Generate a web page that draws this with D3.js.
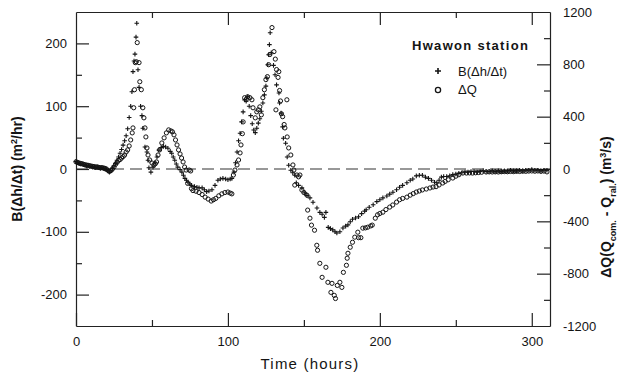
<!DOCTYPE html>
<html>
<head>
<meta charset="utf-8">
<script src="https://cdn.jsdelivr.net/npm/d3@7"></script>
<style>
  body { margin: 0; background: #fff; }
  svg { display: block; font-family: Arial, "Liberation Sans", sans-serif; }
</style>
</head>
<body>
<div id="container"></div>
<script>
// B(dh/dt), left axis (m2/hr) - plus markers
const hoursB = [0,1,2,3,4,5,6,7,8,9,10,11,12,13,14,15,16,17,18,19,20,21,22,23,24,
  25,26,27,28,29,30,31,32,33,34,35,36,36.8,37.5,38.2,38.8,39.5,40,
  40.8,41.5,42.5,43.4,44,45.4,46.7,47.4,48,49.3,50.7,52,53.3,54.6,56,57.5,59,60.5,62,63,64,65,66,67,68.5,69.7,70.7,71.7,72.7,73.7,75,76,78,79.6,81,83,84.5,86,87.5,89.5,91.5,93.4,95,96.7,98.5,100,101.5,102.6,
  104,105,106,107,108,109,110,111,112,113,114,115,116,117,118,119,120,121,122,123,124,125,125.6,126.2,126.8,127.3,127.8,128.5,130,
  131,132,133.6,134,135,136,136.5,138,139,140,141.4,142.7,144,145,146.5,148.7,150.6,152,154,156,158.6,160.5,162,163.5,164.5,166,167.5,169,170.5,171.7,173.7,175.7,177.5,179,180.5,182,184,186,188,190,191,193,195.6,198,200,202,204.6,206.5,208.6,211,213,215,217.8,220,221.7,224,226,228,230,232,234,236,237.5,239,240.5,242,244,246,248,250,252,254,256,258,260,262,264,266,268,270,272,274,276,278,280,282,284,286,288,290,292,294,296,298,300,302,304,306,308,310];
const valuesB = [12,10,9,8,8,7,6,5,5,4,4,3,3,2,3,2,1,2,1,0,-1,-3,-5,-3,1,
  5,9,14,19,25,31,38,45,53,64,82,100,123,155,172,183,210,232,
  158,130,100,85,65,35,27,14,2,-5,3,10,19,30,34,36,35,33,28,25,19,14,8,3,-1,-5,-10,-15,-18,-21,-24,-26,-28,-29,-30,-30,-33,-36,-35,-33,-26,-18,-16,-15,-16,-17,-16,-15,
  -5,10,27,45,57,75,91,110,108,115,100,85,72,62,58,65,73,80,92,105,118,132,145,166,182,198,217,185,165,
  150,134,121,105,89,67,49,41,19,6,-2,-6,-10,-22,-26,-30,-38,-42,-46,-53,-62,-69,-72,-77,-69,-93,-95,-97,-100,-102,-100,-94,-91,-89,-84,-80,-78,-76,-71,-67,-65,-61,-57,-52,-49,-46,-43,-40,-37,-33,-29,-26,-22,-18,-16,-11,-10,-10,-13,-15,-18,-21,-22,-18,-13,-12,-12,-11,-9,-8,-7,-6,-5,-5,-4,-4,-5,-4,-3,-4,-4,-3,-4,-3,-4,-3,-3,-2,-3,-3,-2,-3,-2,-2,-1,-2,-2,-3,-2,-2];

// dQ (Qcom - Qral), right axis (m3/s) - circle markers
const hoursQ = [0,1,2,3,4,5,6,7,8,9,10,11,12,13,14,15,16,17,18,19,20,21,22,23,24,25,26,27,28,29,30,31,32,33,34,35,36,37,37.5,38,38.5,39,39.7,40.3,
  41.5,42,43,44,44.7,45.4,46,46.7,47.4,48.5,50,51.3,52.2,53,54,55,56.5,58,59.5,61,62.5,63.5,64.5,65.5,66.5,67.5,68.5,69.5,70.5,71.5,72.5,73.5,74.5,75.5,76,77,79,81,83,85,87,89,90.5,92,94,96,98,100,101.5,102.6,
  103.6,104.6,106,107,108,108.6,109.5,110,111,112,113,114.5,115.8,116.5,118,119,120,121,122,123,124,125,126,126.8,127.6,129,130.3,131.2,131.6,132,133,133.5,134,134.6,135.2,136,137,137.5,138.8,139,140,141.4,142.8,143.4,144,145.4,146.5,147.4,148.7,150,152,152.5,154,155,157,158.5,159,160.5,162,164.5,165.8,167.8,168.5,170,170.8,172,173.7,175,176,178,178.5,179,180.5,182,183.5,185.5,186,187.5,188.8,190.5,192,194,195,197,198.5,200,202,204,206.5,208.5,211,213,215,217.8,220,222,224,226,228,230.6,233,235,237,239,241.4,243,245,248,250,252,254.6,257,259,261,263,265,267,270,272,274,276,278,280,282,284,286,288,290,292,294,296,298,300,302,304,306,308,310];
const valuesQ = [55,50,46,42,40,36,32,30,28,25,22,20,18,15,16,12,10,10,8,5,0,-10,-18,-12,0,15,35,50,65,72,84,95,107,130,146,176,222,276,314,468,606,813,820,966,
  813,667,606,468,391,314,245,161,107,69,46,31,40,54,107,146,199,238,276,299,291,284,261,222,184,146,115,84,54,15,-8,-110,-8,-15,-150,-165,-170,-180,-195,-215,-230,-245,-235,-225,-205,-190,-180,-176,-184,-190,
  -46,-8,31,69,123,184,270,360,545,530,552,545,529,468,391,437,452,475,414,545,606,683,706,797,875,1081,897,840,452,760,700,744,600,520,422,400,340,314,529,245,161,107,31,-8,-123,-46,-60,-46,-161,-180,-200,-314,-376,-429,-468,-583,-621,-721,-828,-751,-866,-943,-874,-966,-990,-890,-866,-905,-790,-736,-682,-644,-598,-560,-521,-483,-525,-525,-452,-450,-445,-435,-429,-376,-350,-340,-330,-310,-291,-275,-253,-235,-225,-215,-200,-188,-176,-168,-160,-153,-145,-138,-135,-122,-107,-95,-82,-69,-55,-44,-31,-31,-30,-31,-29,-27,-25,-23,-22,-23,-22,-23,-21,-20,-21,-19,-20,-18,-19,-17,-18,-16,-15,-17,-15,-18,-16,-22];

const xMajor = [0, 100, 200, 300]
const xMinor = [50, 150, 250]
const leftMajor = [-200, -100, 0, 100, 200]
const leftMinor = [-150, -50, 50, 150]
const rightLabels = [-1200, -800, -400, 0, 400, 800, 1200]
const rightMajor = [-800, -400, 0, 400, 800]
const rightMinor = [-1000, -600, -200, 200, 600, 1000]

const width = 621
const height = 381
const margin = { top: 12, right: 71, bottom: 55, left: 76 }
const ink = '#141414'
const plain = d => String(d)   // hyphen minus, no thousands comma

const svg = d3.select('#container').append('svg').attr('width', width).attr('height', height)

const xScale = d3.scaleLinear().domain([0, 312]).range([margin.left, width - margin.right])
const yLeft = d3.scaleLinear().domain([-250, 250]).range([height - margin.bottom, margin.top])
const yRight = d3.scaleLinear().domain([-1200, 1200]).range([height - margin.bottom, margin.top])

const x0 = margin.left, x1 = width - margin.right
const y0 = height - margin.bottom, y1 = margin.top

// zero line
svg.append('line')
    .attr('x1', x0).attr('x2', x1)
    .attr('y1', yLeft(0)).attr('y2', yLeft(0))
    .attr('stroke', '#333').attr('stroke-width', 1.2)
    .attr('stroke-dasharray', '12,6')

// axes
const styleAxis = g => {
    g.selectAll('path, line').attr('stroke', '#222').attr('stroke-width', 1.2)
    g.selectAll('text').attr('fill', ink).style('font-size', '13px').style('font-family', 'Arial, "Liberation Sans", sans-serif')
}

// bottom
svg.append('g').attr('transform', `translate(0,${y0})`)
    .call(d3.axisBottom(xScale).tickValues(xMajor).tickSize(-13).tickSizeOuter(0).tickPadding(11).tickFormat(plain))
    .call(styleAxis)
svg.append('g').attr('transform', `translate(0,${y0})`)
    .call(d3.axisBottom(xScale).tickValues(xMinor).tickSize(-6).tickSizeOuter(0).tickFormat(''))
    .call(styleAxis).select('.domain').remove()
// top
svg.append('g').attr('transform', `translate(0,${y1})`)
    .call(d3.axisTop(xScale).tickValues(xMajor.slice(1)).tickSize(-13).tickSizeOuter(0).tickFormat(''))
    .call(styleAxis)
svg.append('g').attr('transform', `translate(0,${y1})`)
    .call(d3.axisTop(xScale).tickValues(xMinor).tickSize(-6).tickSizeOuter(0).tickFormat(''))
    .call(styleAxis).select('.domain').remove()
// left
svg.append('g').attr('transform', `translate(${x0},0)`)
    .call(d3.axisLeft(yLeft).tickValues(leftMajor).tickSize(-13).tickSizeOuter(0).tickPadding(9).tickFormat(plain))
    .call(styleAxis)
svg.append('g').attr('transform', `translate(${x0},0)`)
    .call(d3.axisLeft(yLeft).tickValues(leftMinor).tickSize(-6).tickSizeOuter(0).tickFormat(''))
    .call(styleAxis).select('.domain').remove()
// right
svg.append('g').attr('transform', `translate(${x1},0)`)
    .call(d3.axisRight(yRight).tickValues(rightLabels).tickSize(0).tickSizeOuter(0).tickPadding(13).tickFormat(plain))
    .call(styleAxis)
svg.append('g').attr('transform', `translate(${x1},0)`)
    .call(d3.axisRight(yRight).tickValues(rightMajor).tickSize(-13).tickSizeOuter(0).tickFormat(''))
    .call(styleAxis).select('.domain').remove()
svg.append('g').attr('transform', `translate(${x1},0)`)
    .call(d3.axisRight(yRight).tickValues(rightMinor).tickSize(-6).tickSizeOuter(0).tickFormat(''))
    .call(styleAxis).select('.domain').remove()

// data: circles (dQ on right axis)
svg.append('g').selectAll('circle').data(hoursQ).enter().append('circle')
    .attr('cx', (d, i) => xScale(d))
    .attr('cy', (d, i) => yRight(valuesQ[i]))
    .attr('r', 2.1)
    .attr('fill', 'none')
    .attr('stroke', ink)
    .attr('stroke-width', 1)

// data: pluses (B on left axis)
svg.append('g').selectAll('path').data(hoursB).enter().append('path')
    .attr('transform', (d, i) => `translate(${xScale(d)},${yLeft(valuesB[i])})`)
    .attr('d', 'M-2.3,0H2.3M0,-2.3V2.3')
    .attr('stroke', ink)
    .attr('stroke-width', 1.1)

// axis titles
svg.append('text')
    .attr('x', 310).attr('y', 369)
    .attr('text-anchor', 'middle')
    .style('font-size', '15px').style('letter-spacing', '1.2px').attr('fill', ink)
    .text('Time (hours)')

const leftTitle = svg.append('text')
    .attr('transform', `translate(22,${yLeft(0)}) rotate(-90)`)
    .attr('text-anchor', 'middle')
    .style('font-size', '14px').style('font-weight', 'bold').attr('fill', ink)
leftTitle.append('tspan').text('B(\u0394h/\u0394t) (m')
leftTitle.append('tspan').attr('baseline-shift', 'super').style('font-size', '9px').text('2')
leftTitle.append('tspan').text('/hr)')

const rightTitle = svg.append('text')
    .attr('transform', `translate(611,${yLeft(0) + 38}) rotate(-90)`)
    .attr('text-anchor', 'middle')
    .style('font-size', '14px').style('font-weight', 'bold').attr('fill', ink)
rightTitle.append('tspan').text('\u0394Q(Q')
rightTitle.append('tspan').attr('baseline-shift', 'sub').style('font-size', '9px').text('com.')
rightTitle.append('tspan').text(' - Q')
rightTitle.append('tspan').attr('baseline-shift', 'sub').style('font-size', '9px').text('ral.')
rightTitle.append('tspan').text(') (m')
rightTitle.append('tspan').attr('baseline-shift', 'super').style('font-size', '9px').text('3')
rightTitle.append('tspan').text('/s)')

// legend
const legend = svg.append('g')
legend.append('text').attr('x', 412).attr('y', 50)
    .style('font-size', '13px').style('font-weight', 'bold').style('letter-spacing', '1.3px')
    .attr('fill', ink).text('Hwawon station')
legend.append('path').attr('transform', 'translate(438,71)')
    .attr('d', 'M-3,0H3M0,-3V3').attr('stroke', ink).attr('stroke-width', 1.6)
legend.append('text').attr('x', 458).attr('y', 76)
    .style('font-size', '13px').attr('fill', ink).text('B(\u0394h/\u0394t)')
legend.append('circle').attr('cx', 438).attr('cy', 90).attr('r', 2.6)
    .attr('fill', 'none').attr('stroke', ink).attr('stroke-width', 1.3)
legend.append('text').attr('x', 458).attr('y', 94)
    .style('font-size', '13px').attr('fill', ink).text('\u0394Q')
</script>
</body>
</html>
